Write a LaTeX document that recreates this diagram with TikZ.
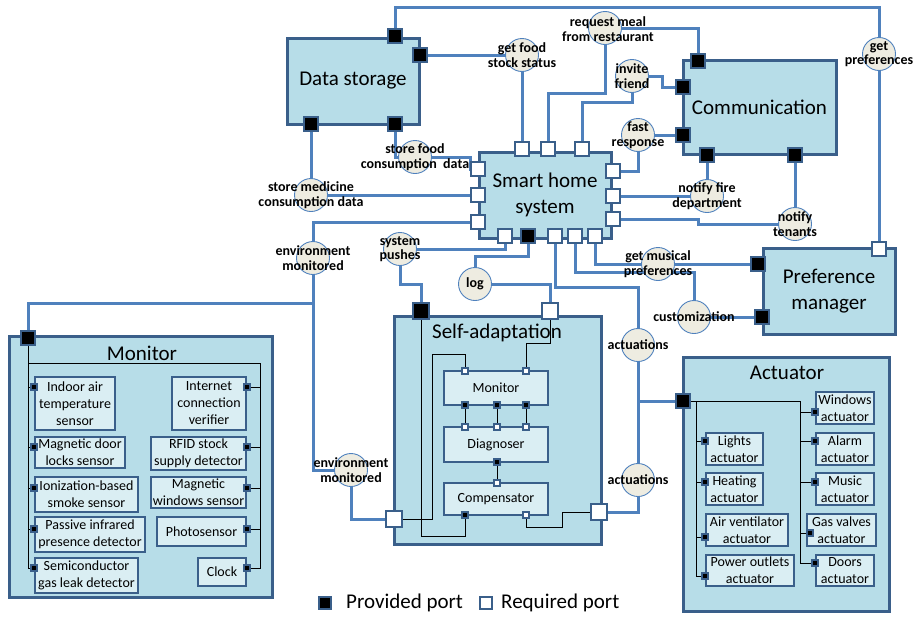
\documentclass[tikz,border=0pt]{standalone}
\usepackage{fontspec}
\setmainfont{Carlito}
\definecolor{boxfill}{RGB}{183,221,232}
\definecolor{boxline}{RGB}{58,95,138}
\definecolor{connc}{RGB}{79,129,189}
\definecolor{ifill}{RGB}{238,236,225}
\definecolor{infill}{RGB}{218,238,243}
\pgfdeclarelayer{bg}
\pgfdeclarelayer{lines}
\pgfsetlayers{bg,lines,main}
\tikzset{
  bigbox/.style={draw=boxline, fill=boxfill, line width=3pt, inner sep=0pt, align=center},
  bigfont/.style={font=\fontsize{21}{26}\selectfont},
  ttl/.style={font=\fontsize{21}{24}\selectfont, inner sep=0pt},
  subbox/.style={draw=boxline, fill=infill, line width=2.4pt, inner sep=0pt, align=center, font=\fontsize{14}{17}\selectfont},
  pp/.style={draw=boxline, fill=black, line width=2.4pt, minimum size=14.5pt, inner sep=0pt},
  rp/.style={pp, fill=white},
  spp/.style={draw=boxline, fill=black, line width=1.6pt, minimum size=6.5pt, inner sep=0pt},
  srp/.style={spp, fill=white},
  iface/.style={circle, draw=connc, fill=ifill, line width=0.9pt, minimum size=33pt, inner sep=0pt},
  lbl/.style={font=\fontsize{14}{14.5}\selectfont\bfseries, align=center, inner sep=0pt},
  connl/.style={draw=connc, line width=3pt},
  thinl/.style={draw=black, line width=1pt},
  legf/.style={font=\fontsize{21}{24}\selectfont, inner sep=0pt}
}
\begin{document}
\begin{tikzpicture}[x=1pt,y=-1pt]
\useasboundingbox (0,0) rectangle (917,616);
\begin{pgfonlayer}{bg}
\node[bigbox, bigfont, minimum width=132pt, minimum height=86pt] (ds) at (353,81) {Data storage};
\node[bigbox, bigfont, minimum width=153pt, minimum height=94pt] (cm) at (759.5,107) {Communication};
\node[bigbox, bigfont, minimum width=132pt, minimum height=86pt] (sh) at (545,195) {Smart home\\system};
\node[bigbox, bigfont, minimum width=132pt, minimum height=86pt] (pm) at (829,291) {Preference\\manager};
\node[bigbox, minimum width=207pt, minimum height=228pt] (sa) at (497.5,430) {};
\node[bigbox, minimum width=263pt, minimum height=261pt] (mo) at (140.5,466.5) {};
\node[bigbox, minimum width=206pt, minimum height=254pt] (ac) at (786,484) {};
\end{pgfonlayer}
% titles
\node[ttl] (saTt) at (497,333) {Self-adaptation};
\node[ttl] (moTt) at (142,353) {Monitor};
\node[ttl] (acTt) at (787,373) {Actuator};
% ports
\node[pp] (dsT) at (395,36) {};
\node[pp] (dsR) at (420,55) {};
\node[pp] (dsB1) at (311,124) {};
\node[pp] (dsB2) at (395,124) {};
\node[pp] (cmT) at (698,61) {};
\node[pp] (cmL1) at (683,87) {};
\node[pp] (cmL2) at (683,135) {};
\node[pp] (cmB1) at (707,155) {};
\node[pp] (cmB2) at (795,155) {};
\node[rp] (shT1) at (522,149) {};
\node[rp] (shT2) at (548,149) {};
\node[rp] (shT3) at (582,149) {};
\node[rp] (shL1) at (478,169) {};
\node[rp] (shL2) at (478,195) {};
\node[rp] (shL3) at (478,222) {};
\node[rp] (shR1) at (613,171) {};
\node[rp] (shR2) at (613,196) {};
\node[rp] (shR3) at (613,219) {};
\node[rp] (shB1) at (505,236) {};
\node[pp] (shB2) at (528,236) {};
\node[rp] (shB3) at (555,236) {};
\node[rp] (shB4) at (575,236) {};
\node[rp] (shB5) at (595,236) {};
\node[rp] (pmT) at (879,249) {};
\node[pp] (pmL1) at (758,264) {};
\node[pp] (pmL2) at (762,317) {};
\node[pp, minimum size=16pt] (saT1) at (421,311) {};
\node[rp, minimum size=16pt] (saT2) at (550,311) {};
\node[rp, minimum size=16pt] (saL) at (394,519) {};
\node[rp, minimum size=16pt] (saR) at (599,512) {};
\node[pp] (moP) at (28,338) {};
\node[pp] (acP) at (683,401) {};
% interfaces
\node[iface] (gfs) at (522,55) {};
\node[iface] (rmr) at (605,28) {};
\node[iface] (inv) at (632,76) {};
\node[iface] (fr) at (638,135) {};
\node[iface] (gp) at (879,54) {};
\node[iface] (sfc) at (415,157) {};
\node[iface] (smc) at (311,195) {};
\node[iface] (nfd) at (707,196) {};
\node[iface] (nt) at (795,224) {};
\node[iface] (em1) at (313,258) {};
\node[iface] (sp) at (400,249) {};
\node[iface] (log) at (475,284) {};
\node[iface] (gmp) at (658,264) {};
\node[iface] (cus) at (694,317) {};
\node[iface] (act1) at (638,345) {};
\node[iface] (act2) at (638,480) {};
\node[iface] (em2) at (351,470) {};
\node[lbl] (gfsL) at (gfs) {get food\\stock status};
\node[lbl] (rmrL) at (608,29) {request meal\\from restaurant};
\node[lbl] (invL) at (inv) {invite\\friend};
\node[lbl] (frL) at (fr) {fast\\response};
\node[lbl] (gpL) at (gp) {get\\preferences};
\node[lbl] (sfcL) at (sfc) {store food\\consumption\ \ data};
\node[lbl] (smcL) at (smc) {store medicine\\consumption data};
\node[lbl] (nfdL) at (nfd) {notify fire\\department};
\node[lbl] (ntL) at (nt) {notify\\tenants};
\node[lbl] (em1L) at (em1) {environment\\monitored};
\node[lbl] (spL) at (sp) {system\\pushes};
\node[lbl] (logL) at (log) {log};
\node[lbl] (gmpL) at (gmp) {get musical\\preferences};
\node[lbl] (cusL) at (cus) {customization};
\node[lbl] (act1L) at (act1) {actuations};
\node[lbl] (act2L) at (act2) {actuations};
\node[lbl] (em2L) at (em2) {environment\\monitored};
% self-adaptation inner
\node[subbox, minimum width=104pt, minimum height=34pt] (mon) at (496,388) {Monitor};
\node[subbox, minimum width=104pt, minimum height=35pt] (dia) at (496,444.5) {Diagnoser};
\node[subbox, minimum width=104pt, minimum height=32pt] (cmp) at (496,499) {Compensator};
\node[srp] (mT1) at (465,371) {};
\node[srp] (mT2) at (526,371) {};
\node[spp] (mB1) at (465,405) {};
\node[spp] (mB2) at (497,405) {};
\node[spp] (mB3) at (526,405) {};
\node[srp] (dT1) at (465,427) {};
\node[srp] (dT2) at (497,427) {};
\node[srp] (dT3) at (526,427) {};
\node[spp] (dB) at (497,462) {};
\node[srp] (cT) at (497,483) {};
\node[spp] (cB1) at (465,515) {};
\node[srp] (cB2) at (526,515) {};
% monitor sensors
\node[subbox, minimum width=80pt, minimum height=53pt] (s1) at (75,403.5) {Indoor air\\temperature\\sensor};
\node[subbox, minimum width=90pt, minimum height=31pt] (s2) at (80,452.5) {Magnetic door\\locks sensor};
\node[subbox, minimum width=103pt, minimum height=35pt] (s3) at (86.5,494.5) {Ionization-based\\smoke sensor};
\node[subbox, minimum width=110pt, minimum height=35pt] (s4) at (90,534.5) {Passive infrared\\presence detector};
\node[subbox, minimum width=103pt, minimum height=35pt] (s5) at (86.5,575.5) {Semiconductor\\gas leak detector};
\node[subbox, minimum width=74pt, minimum height=53pt] (r1) at (209,403.5) {Internet\\connection\\verifier};
\node[subbox, minimum width=95pt, minimum height=33pt] (r2) at (198.5,453.5) {RFID stock\\supply detector};
\node[subbox, minimum width=95pt, minimum height=31pt] (r3) at (198.5,492.5) {Magnetic\\windows sensor};
\node[subbox, minimum width=89pt, minimum height=29pt] (r4) at (201.5,531.5) {Photosensor};
\node[subbox, minimum width=48pt, minimum height=28pt] (r5) at (222,572) {Clock};
\node[spp] (mlp1) at (34,387) {};
\node[spp] (mlp2) at (34,447) {};
\node[spp] (mlp3) at (34,488) {};
\node[spp] (mlp4) at (34,529) {};
\node[spp] (mlp5) at (34,568) {};
\node[spp] (mrp1) at (247,387) {};
\node[spp] (mrp2) at (247,447) {};
\node[spp] (mrp3) at (247,488) {};
\node[spp] (mrp4) at (247,529) {};
\node[spp] (mrp5) at (247,568) {};
% actuators
\node[subbox, minimum width=57pt, minimum height=32pt] (a1) at (734.5,449) {Lights\\actuator};
\node[subbox, minimum width=57pt, minimum height=32pt] (a2) at (734.5,489) {Heating\\actuator};
\node[subbox, minimum width=82pt, minimum height=32pt] (a3) at (747,530) {Air ventilator\\actuator};
\node[subbox, minimum width=88pt, minimum height=31pt] (a4) at (750,570.5) {Power outlets\\actuator};
\node[subbox, minimum width=58pt, minimum height=32pt] (b1) at (845,408) {Windows\\actuator};
\node[subbox, minimum width=58pt, minimum height=32pt] (b2) at (845,449) {Alarm\\actuator};
\node[subbox, minimum width=58pt, minimum height=32pt] (b3) at (845,489) {Music\\actuator};
\node[subbox, minimum width=69pt, minimum height=32pt] (b4) at (841.5,530) {Gas valves\\actuator};
\node[subbox, minimum width=58pt, minimum height=31pt] (b5) at (845,570.5) {Doors\\actuator};
\node[spp] (alp1) at (705,441) {};
\node[spp] (alp2) at (705,482) {};
\node[spp] (alp3) at (705,537) {};
\node[spp] (alp4) at (705,576) {};
\node[spp] (arp1) at (815,412) {};
\node[spp] (arp2) at (815,441) {};
\node[spp] (arp3) at (815,482) {};
\node[spp] (arp4) at (810,533) {};
\node[spp] (arp5) at (815,563) {};
% legend
\node[pp, minimum size=12.5pt] (legP) at (325,603) {};
\node[legf, anchor=west] (legPT) at (346,603) {Provided port};
\node[rp, minimum size=11.5pt] (legR) at (486,603) {};
\node[legf, anchor=west] (legRT) at (501,603) {Required port};
% connectors
\begin{pgfonlayer}{lines}
\draw[connl] (dsT.center) |- (879,7) -- (gp.center) -- (pmT.center);
\draw[connl] (dsR.center) -- (gfs.center) -- (shT1.center);
\draw[connl] (rmr.center) -| (cmT.center);
\draw[connl] (rmr.center) -- (605,93) -| (shT2.center);
\draw[connl] (inv.center) -| (662,87) -- (cmL1.center);
\draw[connl] (inv.center) -- (632,102) -| (shT3.center);
\draw[connl] (fr.center) -- (cmL2.center);
\draw[connl] (fr.center) |- (shR1.center);
\draw[connl] (cmB1.center) -- (nfd.center) -- (shR2.center);
\draw[connl] (cmB2.center) -- (nt.center);
\draw[connl] (shR3.center) -| (698,224) -- (nt.center);
\draw[connl] (dsB1.center) -- (smc.center) -- (shL2.center);
\draw[connl] (dsB2.center) |- (sfc.center) -- (470,157) |- (shL1.center);
\draw[connl] (shL3.center) -| (em1.center) -- (313,470) -- (em2.center);
\coordinate (br) at (313,303);
\draw[connl] (br) -| (moP.center);
\draw[connl] (em2.center) |- (saL.center);
\draw[connl] (shB1.center) |- (sp.center);
\draw[connl] (sp.center) -- (400,284) -| (saT1.center);
\draw[connl] (shB2.center) -- (528,256) -| (log.center);
\draw[connl] (log.center) -| (saT2.center);
\draw[connl] (shB3.center) -- (555,287) -| (act1.center) -- (act2.center) |- (saR.center);
\draw[connl] (act1.center) |- (acP.center);
\draw[connl] (shB4.center) -- (575,272) -| (cus.center) -- (pmL2.center);
\draw[connl] (shB5.center) |- (gmp.center) -- (pmL1.center);
% self-adaptation internals
\draw[thinl] (saT1.center) -- (421,536) -| (cB1.center);
\draw[thinl] (saL.center) -- (432,519) |- (465,354) -- (mT1.center);
\draw[thinl] (saT2.center) -- (550,343) -| (mT2.center);
\draw[thinl] (mB1.center) -- (dT1.center);
\draw[thinl] (mB2.center) -- (dT2.center);
\draw[thinl] (mB3.center) -- (dT3.center);
\draw[thinl] (dB.center) -- (cT.center);
\draw[thinl] (cB2.center) |- (562,527) |- (saR.center);
% monitor internals
\coordinate (mr) at (260,0);
\draw[thinl] (moP.center) |- (mlp5.center);
\foreach \i in {1,...,4} {\draw[thinl] (moP.center |- mlp\i.center) -- (mlp\i.center);}
\draw[thinl] (moP.center) -- (28,363) -| (260,568) -- (mrp5.center);
\foreach \i in {1,...,4} {\draw[thinl] (mrp\i.center) -- (mrp\i.center -| mr);}
% actuator internals
\coordinate (ar) at (800,0);
\coordinate (al) at (696,0);
\draw[thinl] (acP.center) -| (800,563) -- (arp5.center);
\foreach \i in {1,...,4} {\draw[thinl] (arp\i.center -| ar) -- (arp\i.center);}
\draw[thinl] (acP.center -| al) |- (alp4.center);
\foreach \i in {1,2,3} {\draw[thinl] (alp\i.center -| al) -- (alp\i.center);}
\end{pgfonlayer}
\end{tikzpicture}
\end{document}
